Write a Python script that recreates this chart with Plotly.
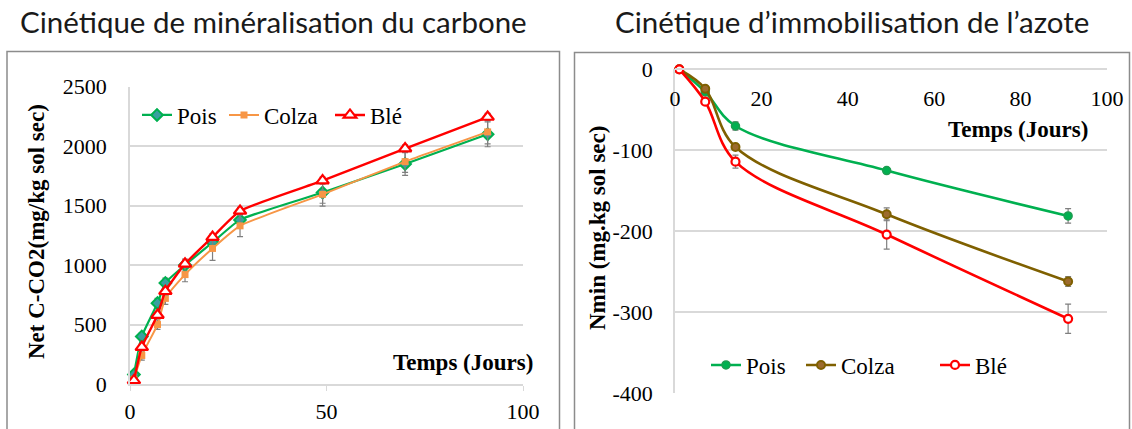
import plotly.graph_objects as go

W, H = 1132, 429

# ---------------- data ----------------
days_c = [1, 3, 7, 9, 14, 21, 28, 49, 70, 91]
pois_c = [80, 400, 680, 850, 1000, 1190, 1380, 1610, 1850, 2100]
colza_c = [40, 240, 500, 720, 920, 1140, 1330, 1595, 1870, 2120]
ble_c = [30, 310, 580, 780, 1010, 1235, 1455, 1710, 1980, 2245]
pois_c_err = [15, 30, 40, 40, 50, 60, 60, 90, 95, 105]
colza_c_err = [15, 40, 40, 50, 60, 100, 90, 100, 90, 100]
ble_c_err = [10, 30, 30, 30, 30, 30, 30, 30, 30, 30]

days_n = [1, 7, 14, 49, 91]
pois_n = [0, -28, -70, -125, -181]
colza_n = [0, -24, -96, -179, -262]
ble_n = [0, -40, -114, -204, -308]
pois_n_err = [0, 3, 5, 3, 9]
colza_n_err = [0, 3, 3, 8, 6]
ble_n_err = [0, 3, 8, 18, 18]

series_names = ["Pois", "Colza", "Blé"]
c_ticks = [0, 500, 1000, 1500, 2000, 2500]
n_ticks = [0, -100, -200, -300, -400]
n_ticktext = ["0", "-100", "-200", "-300", "-400"]
titles = ["Cinétique de minéralisation du carbone", "Cinétique d’immobilisation de l’azote"]
ytitles = ["Net C-CO2(mg/kg sol sec)", "Nmin (mg.kg sol sec)"]
xtitle = "Temps (Jours)"

# ---------------- helpers ----------------
def px(x):
    return x / W

def py(y):
    return 1 - y / H

SERIF = "Liberation Serif"
GREEN = "#00B050"
ORANGE = "#F79646"
RED = "#FF0000"
BROWN = "#7F6000"
GRID = "#D9D9D9"
ERR = "#7F7F7F"

fig = go.Figure()

# ---------------- left chart ----------------
def err(a):
    return dict(type="data", array=a, color=ERR, thickness=1.2, width=3)

fig.add_trace(go.Scatter(
    x=days_c, y=pois_c, name=series_names[0], mode="lines+markers",
    line=dict(color=GREEN, width=2.2, shape="spline", smoothing=0.5),
    marker=dict(symbol="diamond", size=9, color="#3A9FA0", line=dict(color=GREEN, width=2)),
    error_y=err(pois_c_err), xaxis="x", yaxis="y", legend="legend", cliponaxis=False))
fig.add_trace(go.Scatter(
    x=days_c, y=colza_c, name=series_names[1], mode="lines+markers",
    line=dict(color=ORANGE, width=2, shape="spline", smoothing=0.5),
    marker=dict(symbol="square", size=7, color=ORANGE),
    error_y=err(colza_c_err), xaxis="x", yaxis="y", legend="legend2", cliponaxis=False))
fig.add_trace(go.Scatter(
    x=days_c, y=ble_c, name=series_names[2], mode="lines+markers",
    line=dict(color=RED, width=2.4, shape="spline", smoothing=0.5),
    marker=dict(symbol="triangle-up", size=11, color="white", line=dict(color=RED, width=2.2)),
    error_y=err(ble_c_err), xaxis="x", yaxis="y", legend="legend3", cliponaxis=False))

# ---------------- right chart ----------------
fig.add_trace(go.Scatter(
    x=days_n, y=pois_n, name=series_names[0], mode="lines+markers",
    line=dict(color=GREEN, width=2.6, shape="spline", smoothing=1),
    marker=dict(symbol="circle", size=8, color=GREEN, line=dict(color="#1E9C50", width=1.5)),
    error_y=err(pois_n_err), xaxis="x2", yaxis="y2", legend="legend4", cliponaxis=False))
fig.add_trace(go.Scatter(
    x=days_n, y=colza_n, name=series_names[1], mode="lines+markers",
    line=dict(color=BROWN, width=2.6, shape="spline", smoothing=1),
    marker=dict(symbol="circle", size=8, color="#9C6B2E", line=dict(color=BROWN, width=2)),
    error_y=err(colza_n_err), xaxis="x2", yaxis="y2", legend="legend5", cliponaxis=False))
fig.add_trace(go.Scatter(
    x=days_n, y=ble_n, name=series_names[2], mode="lines+markers",
    line=dict(color=RED, width=2.6, shape="spline", smoothing=1),
    marker=dict(symbol="circle", size=8, color="white", line=dict(color=RED, width=2.2)),
    error_y=err(ble_n_err), xaxis="x2", yaxis="y2", legend="legend6", cliponaxis=False))

tickfont = dict(family=SERIF, size=22, color="#000000")

def leg(x, y):
    return dict(x=px(x), y=py(y), xanchor="left", yanchor="middle",
                bgcolor="rgba(0,0,0,0)", borderwidth=0,
                font=dict(family=SERIF, size=23, color="#000000"),
                itemsizing="trace")

fig.update_layout(
    width=W, height=H, autosize=False,
    margin=dict(l=0, r=0, t=0, b=0, autoexpand=False),
    paper_bgcolor="white", plot_bgcolor="white",
    showlegend=True,
    xaxis=dict(domain=[px(130), px(523)], range=[0, 100], anchor="y", automargin=False,
               tickvals=[0, 50, 100], showgrid=False, zeroline=False,
               showline=True, linecolor=GRID, linewidth=1.5,
               ticks="outside", ticklen=5, tickcolor=GRID,
               tickfont=tickfont, ticklabelstandoff=2),
    yaxis=dict(domain=[1 - 384 / H, 1 - 86.7 / H], range=[0, 2500], anchor="x", automargin=False,
               tickvals=c_ticks, showgrid=True, gridcolor=GRID, gridwidth=1.5,
               zeroline=False, showline=True, linecolor=GRID, linewidth=1.5,
               ticks="", tickfont=tickfont, ticklabelstandoff=17),
    xaxis2=dict(domain=[px(675), px(1107)], range=[0, 100], anchor="free", automargin=False,
                position=1 - 69.3 / H, side="bottom",
                tickvals=[0, 20, 40, 60, 80, 100], showgrid=False, zeroline=False,
                showline=True, linecolor=GRID, linewidth=1.5, ticks="",
                tickfont=tickfont, ticklabelstandoff=10),
    yaxis2=dict(domain=[1 - 393.3 / H, 1 - 69.3 / H], range=[-400, 0], anchor="x2", automargin=False,
                tickvals=n_ticks, ticktext=n_ticktext, showgrid=True, gridcolor=GRID,
                gridwidth=1.5, zeroline=False, showline=True, linecolor=GRID,
                linewidth=1.5, ticks="", tickfont=tickfont, ticklabelstandoff=16),
    legend=leg(137, 115),
    legend2=leg(224, 115),
    legend3=leg(330, 115),
    legend4=leg(706, 365),
    legend5=leg(801, 365),
    legend6=leg(935, 365),
)

# panel frames
fig.add_shape(type="rect", xref="paper", yref="paper",
              x0=px(7), x1=px(559.5), y0=py(440), y1=py(51.5),
              line=dict(color="#8C8C8C", width=1.5), layer="below")
fig.add_shape(type="rect", xref="paper", yref="paper",
              x0=px(574.5), x1=px(1129.5), y0=py(440), y1=py(52.5),
              line=dict(color="#8C8C8C", width=1.5), layer="below")

# titles
TITLEFONT = dict(family="Lato", size=29.5, color="#1a1a1a")
fig.add_annotation(text=titles[0], x=px(273), y=py(21), xref="paper", yref="paper",
                   showarrow=False, xanchor="center", yanchor="middle", font=TITLEFONT)
fig.add_annotation(text=titles[1], x=px(852), y=py(21), xref="paper", yref="paper",
                   showarrow=False, xanchor="center", yanchor="middle", font=TITLEFONT)

BOLD = dict(family=SERIF, size=23, color="#000000", weight="bold")
fig.add_annotation(text=ytitles[0], x=px(36), y=py(232), xref="paper", yref="paper",
                   showarrow=False, textangle=-90, xanchor="center", yanchor="middle", font=BOLD)
fig.add_annotation(text=ytitles[1], x=px(597), y=py(228), xref="paper", yref="paper",
                   showarrow=False, textangle=-90, xanchor="center", yanchor="middle", font=BOLD)
fig.add_annotation(text=xtitle, x=px(535), y=py(362), xref="paper", yref="paper",
                   showarrow=False, xanchor="right", yanchor="middle", font=BOLD)
fig.add_annotation(text=xtitle, x=px(1090), y=py(130), xref="paper", yref="paper",
                   showarrow=False, xanchor="right", yanchor="middle", font=BOLD)

fig.write_html("out.html",
               config={"displayModeBar": False},
               post_script="document.body.style.margin='0';document.body.style.overflow='hidden';")
